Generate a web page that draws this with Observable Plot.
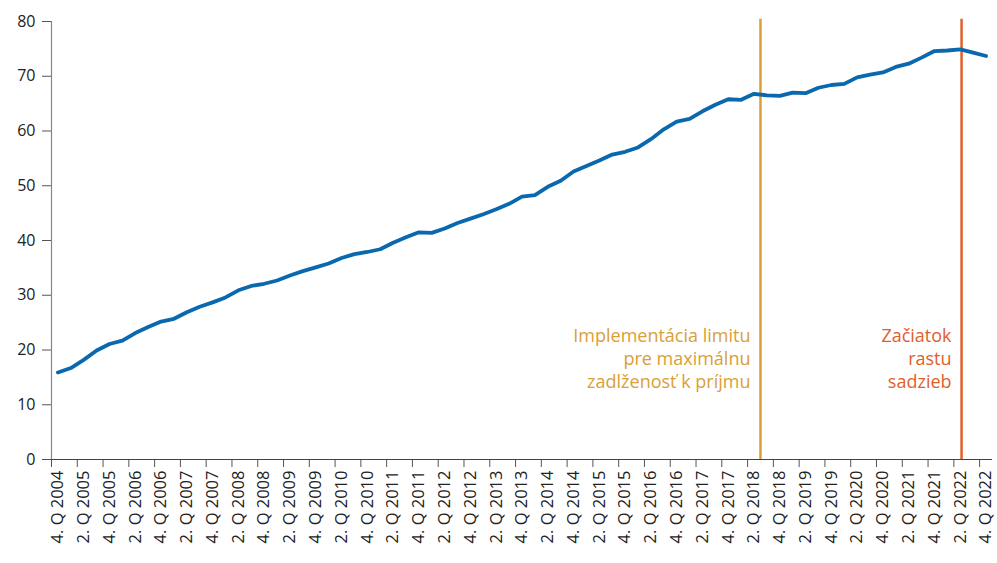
<!DOCTYPE html>
<html>
<head>
<meta charset="utf-8">
<script src="https://cdn.jsdelivr.net/npm/d3@7"></script>
<script src="https://cdn.jsdelivr.net/npm/@observablehq/plot@0.6"></script>
<style>
  html, body { margin: 0; padding: 0; background: #fff; }
  #chart svg { display: block; }
</style>
</head>
<body>
<div id="chart"></div>
<script>
// Quarter categories (4. Q 2004 ... 4. Q 2022)
const quarters = [
  "4. Q 2004",
  "1. Q 2005","2. Q 2005","3. Q 2005","4. Q 2005",
  "1. Q 2006","2. Q 2006","3. Q 2006","4. Q 2006",
  "1. Q 2007","2. Q 2007","3. Q 2007","4. Q 2007",
  "1. Q 2008","2. Q 2008","3. Q 2008","4. Q 2008",
  "1. Q 2009","2. Q 2009","3. Q 2009","4. Q 2009",
  "1. Q 2010","2. Q 2010","3. Q 2010","4. Q 2010",
  "1. Q 2011","2. Q 2011","3. Q 2011","4. Q 2011",
  "1. Q 2012","2. Q 2012","3. Q 2012","4. Q 2012",
  "1. Q 2013","2. Q 2013","3. Q 2013","4. Q 2013",
  "1. Q 2014","2. Q 2014","3. Q 2014","4. Q 2014",
  "1. Q 2015","2. Q 2015","3. Q 2015","4. Q 2015",
  "1. Q 2016","2. Q 2016","3. Q 2016","4. Q 2016",
  "1. Q 2017","2. Q 2017","3. Q 2017","4. Q 2017",
  "1. Q 2018","2. Q 2018","3. Q 2018","4. Q 2018",
  "1. Q 2019","2. Q 2019","3. Q 2019","4. Q 2019",
  "1. Q 2020","2. Q 2020","3. Q 2020","4. Q 2020",
  "1. Q 2021","2. Q 2021","3. Q 2021","4. Q 2021",
  "1. Q 2022","2. Q 2022","3. Q 2022","4. Q 2022"
];

// Series values
const values = [
  15.9,
  16.7, 18.2, 19.9, 21.1,
  21.7, 23.1, 24.2, 25.2,
  25.7, 26.9, 27.9, 28.7,
  29.6, 30.9, 31.7, 32.1,
  32.7, 33.6, 34.4, 35.1,
  35.8, 36.8, 37.5, 37.9,
  38.4, 39.6, 40.6, 41.5,
  41.4, 42.2, 43.2, 44.0,
  44.8, 45.7, 46.7, 48.0,
  48.3, 49.8, 50.9, 52.6,
  53.6, 54.6, 55.7, 56.2,
  57.0, 58.5, 60.3, 61.7,
  62.2, 63.6, 64.8, 65.8,
  65.7, 66.8, 66.5, 66.4,
  67.0, 66.9, 67.9, 68.4,
  68.6, 69.8, 70.3, 70.7,
  71.7, 72.3, 73.4, 74.6,
  74.7, 74.9, 74.3, 73.7
];

// Axis tick labels shown (every second quarter)
const tickLabels = [
  "4. Q 2004","2. Q 2005","4. Q 2005","2. Q 2006","4. Q 2006","2. Q 2007","4. Q 2007",
  "2. Q 2008","4. Q 2008","2. Q 2009","4. Q 2009","2. Q 2010","4. Q 2010","2. Q 2011",
  "4. Q 2011","2. Q 2012","4. Q 2012","2. Q 2013","4. Q 2013","2. Q 2014","4. Q 2014",
  "2. Q 2015","4. Q 2015","2. Q 2016","4. Q 2016","2. Q 2017","4. Q 2017","2. Q 2018",
  "4. Q 2018","2. Q 2019","4. Q 2019","2. Q 2020","4. Q 2020","2. Q 2021","4. Q 2021",
  "2. Q 2022","4. Q 2022"
];
const yTicks = [0, 10, 20, 30, 40, 50, 60, 70, 80];

// Events (position in quarters counted from 4. Q 2004)
const eventPos = [54.5, 70.1];
const eventLabels = [
  "Implementácia limitu\npre maximálnu\nzadlženosť k príjmu",
  "Začiatok\nrastu\nsadzieb"
];
const eventColors = ["#D9A036", "#E0602C"];

const data = values.map((v, i) => ({i, q: quarters[i], v}));
const labelIdx = tickLabels.map(l => quarters.indexOf(l));
const tickBoundaries = labelIdx.map(i => i - 0.5);
const events = eventPos.map((p, k) => ({p, label: eventLabels[k], color: eventColors[k]}));

const font = "'Open Sans', sans-serif";

const chart = Plot.plot({
  width: 997,
  height: 563,
  marginLeft: 51,
  marginRight: 5,
  marginTop: 21,
  marginBottom: 104,
  style: {fontFamily: font, background: "#fff", color: "#222"},
  x: {domain: [-0.5, quarters.length - 0.5], axis: null},
  y: {domain: [0, 80], axis: null},
  marks: [
    // y axis
    Plot.axisY({ticks: yTicks, tickSize: 9, tickPadding: 7, fontSize: 16, stroke: "#555", fill: "#222", label: null}),
    // x tick marks at category boundaries
    Plot.axisX({ticks: tickBoundaries, tickSize: 8, tickFormat: () => "", stroke: "#555", label: null}),
    // x labels at category centers
    Plot.axisX({ticks: labelIdx, tickSize: 0, tickPadding: 11, tickRotate: -90,
      tickFormat: i => quarters[i], fontSize: 16.5, fill: "#222", label: null}),
    // axis lines
    Plot.ruleX([-0.5], {y1: 0, y2: 80, stroke: "#888", strokeWidth: 1.2}),
    Plot.ruleY([0], {x1: -0.5, x2: quarters.length - 0.5, stroke: "#444", strokeWidth: 1.2}),
    // event lines
    Plot.ruleX(events, {x: "p", y1: 0, y2: 80.4, stroke: "color", strokeWidth: 2.5}),
    // series line
    Plot.line(data, {x: "i", y: "v", stroke: "#0A68AE", strokeWidth: 3.8, strokeLinejoin: "round", strokeLinecap: "round"}),
    // event annotations
    Plot.text(events, {x: "p", y: 13.0, text: "label", fill: "color", textAnchor: "end", lineAnchor: "bottom",
      dx: -10, fontSize: 18, lineHeight: 1.3, fontFamily: "'Open Sans', sans-serif"})
  ]
});

document.getElementById("chart").appendChild(chart);
</script>
</body>
</html>
